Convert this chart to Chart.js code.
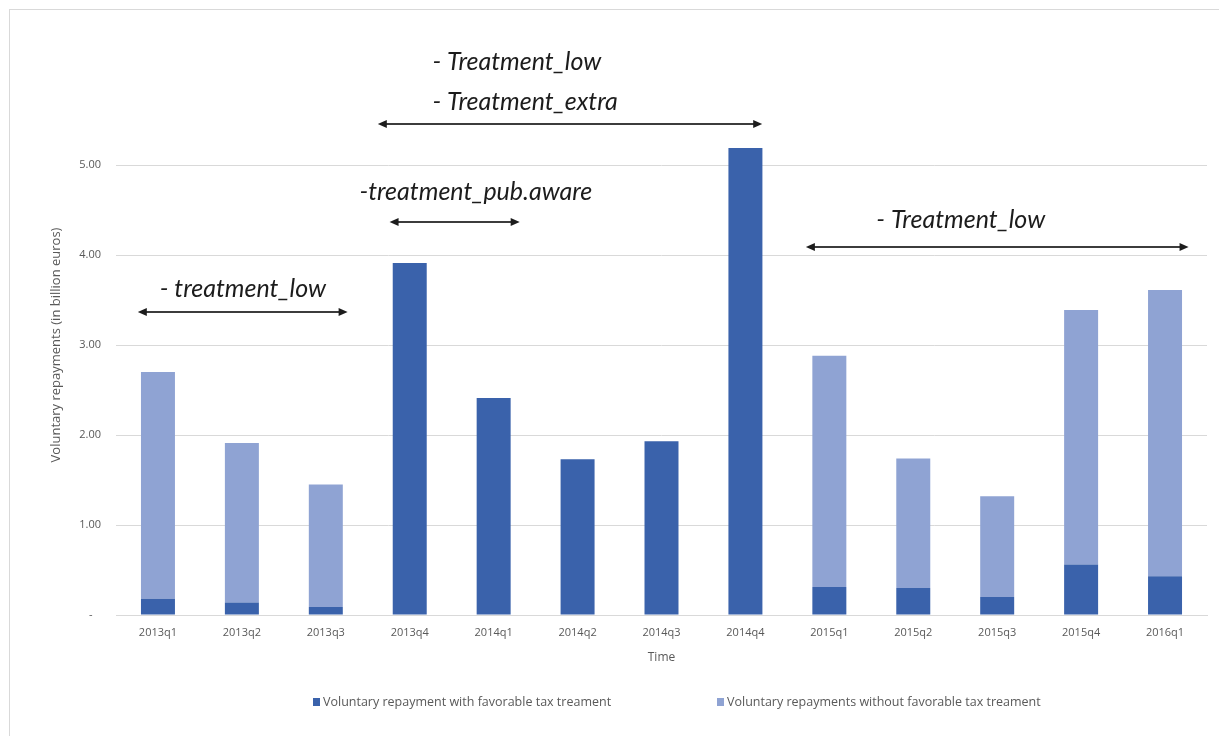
<!DOCTYPE html>
<html>
<head>
<meta charset="utf-8">
<script src="https://cdn.jsdelivr.net/npm/chart.js@4.4.0/dist/chart.umd.min.js"></script>
<style>
  html, body { margin: 0; padding: 0; background: #fff; }
  #frame { position: absolute; left: 9px; top: 9px; width: 1215px; height: 740px; border: 1px solid #d9d9d9; }
  #wrap { position: absolute; left: 0; top: 0; width: 1219px; height: 736px; }
</style>
</head>
<body>
<div id="frame"></div>
<div id="wrap"><canvas id="myChart" width="1219" height="736"></canvas></div>
<script>
// quarters on the x axis
const labels = ["2013q1", "2013q2", "2013q3", "2013q4", "2014q1", "2014q2", "2014q3",
                "2014q4", "2015q1", "2015q2", "2015q3", "2015q4", "2016q1"];
// billion euros
const withFavorable = [0.18, 0.14, 0.09, 3.91, 2.41, 1.73, 1.93, 5.19, 0.31, 0.30, 0.20, 0.56, 0.43];
const withoutFavorable = [2.52, 1.77, 1.36, 0, 0, 0, 0, 0, 2.57, 1.44, 1.12, 2.83, 3.18];
const yTickValues = [0, 1, 2, 3, 4, 5];
const seriesNames = ["Voluntary repayment with favorable tax treament",
                     "Voluntary repayments without favorable tax treament"];

// treatment periods drawn as double arrows (x in category index, y in axis units)
const arrows = [
    { from: -0.24, to: 2.26, y: 3.37 },
    { from: 2.76, to: 4.31, y: 4.37 },
    { from: 2.62, to: 7.2, y: 5.46 },
    { from: 7.72, to: 12.28, y: 4.09 }
];
const notes = [
    { text: "- treatment_low", x: 0.02, y: 3.62 },
    { text: "-treatment_pub.aware", x: 2.4, y: 4.7 },
    { text: "- Treatment_low", x: 3.27, y: 6.14 },
    { text: "- Treatment_extra", x: 3.27, y: 5.7 },
    { text: "- Treatment_low", x: 8.56, y: 4.39 }
];

const darkBlue = '#3a62ab';
const lightBlue = '#8fa3d3';

const treatmentPlugin = {
    id: 'treatments',
    afterDatasetsDraw(chart) {
        const { ctx, scales: { x, y } } = chart;
        ctx.save();
        ctx.strokeStyle = '#3c3c3c';
        ctx.fillStyle = '#1c1c1c';
        ctx.lineWidth = 2;
        arrows.forEach(a => {
            const x1 = x.getPixelForValue(a.from);
            const x2 = x.getPixelForValue(a.to);
            const py = Math.round(y.getPixelForValue(a.y));
            ctx.beginPath();
            ctx.moveTo(x1 + 6, py);
            ctx.lineTo(x2 - 6, py);
            ctx.stroke();
            [[x1, 1], [x2, -1]].forEach(([px, dir]) => {
                ctx.beginPath();
                ctx.moveTo(px, py);
                ctx.lineTo(px + dir * 9, py - 4);
                ctx.lineTo(px + dir * 9, py + 4);
                ctx.closePath();
                ctx.fill();
            });
        });
        ctx.font = 'italic 25px Lato';
        ctx.textAlign = 'left';
        ctx.textBaseline = 'middle';
        notes.forEach(n => {
            ctx.fillText(n.text, x.getPixelForValue(n.x), y.getPixelForValue(n.y));
        });
        ctx.restore();
    }
};

const legendPlugin = {
    id: 'bottomLegend',
    afterDraw(chart) {
        const { ctx } = chart;
        const starts = [313, 717];
        ctx.save();
        ctx.font = '12.5px "Open Sans"';
        ctx.textBaseline = 'middle';
        chart.data.datasets.forEach((ds, i) => {
            ctx.fillStyle = ds.backgroundColor;
            ctx.fillRect(starts[i], 698, 7, 8);
            ctx.fillStyle = '#595959';
            ctx.fillText(ds.label, starts[i] + 10, 702);
        });
        ctx.restore();
    }
};

const tickFont = { family: 'Open Sans', size: 11 };

new Chart(document.getElementById('myChart'), {
    type: 'bar',
    data: {
        labels: labels,
        datasets: [{
            label: seriesNames[0],
            data: withFavorable,
            backgroundColor: darkBlue,
            categoryPercentage: 1,
            barPercentage: 0.405
        }, {
            label: seriesNames[1],
            data: withoutFavorable,
            backgroundColor: lightBlue,
            categoryPercentage: 1,
            barPercentage: 0.405
        }]
    },
    options: {
        responsive: false,
        animation: false,
        devicePixelRatio: 1,
        layout: { padding: { left: 0, top: 75, right: 12, bottom: 61 } },
        plugins: {
            legend: { display: false },
            tooltip: { enabled: false }
        },
        scales: {
            x: {
                stacked: true,
                grid: { display: false, drawTicks: false },
                border: { display: true, color: '#d9d9d9' },
                ticks: { padding: 11, color: '#595959', font: tickFont },
                title: { display: true, text: 'Time', color: '#595959', font: { family: 'Open Sans', size: 12 }, padding: { top: 0, bottom: 10 } },
                afterFit(s) { s.height = 60; }
            },
            y: {
                stacked: true,
                min: 0,
                max: 6,
                afterBuildTicks(s) {
                    s.ticks = yTickValues.concat([6]).map(v => ({ value: v }));
                },
                ticks: {
                    padding: 15,
                    color: '#595959',
                    font: tickFont,
                    callback: v => v === 0 ? '-   ' : (v === 6 ? '' : v.toFixed(2))
                },
                grid: {
                    drawTicks: false,
                    color: c => c.tick && c.tick.value === 6 ? 'rgba(0,0,0,0)' : '#d9d9d9'
                },
                border: { display: false },
                title: {
                    display: true,
                    text: 'Voluntary repayments (in billion euros)',
                    color: '#595959',
                    font: { family: 'Open Sans', size: 13 },
                    padding: { top: 48, bottom: 0 }
                },
                afterFit(s) { s.width = 116; }
            }
        }
    },
    plugins: [treatmentPlugin, legendPlugin]
});
</script>
</body>
</html>
